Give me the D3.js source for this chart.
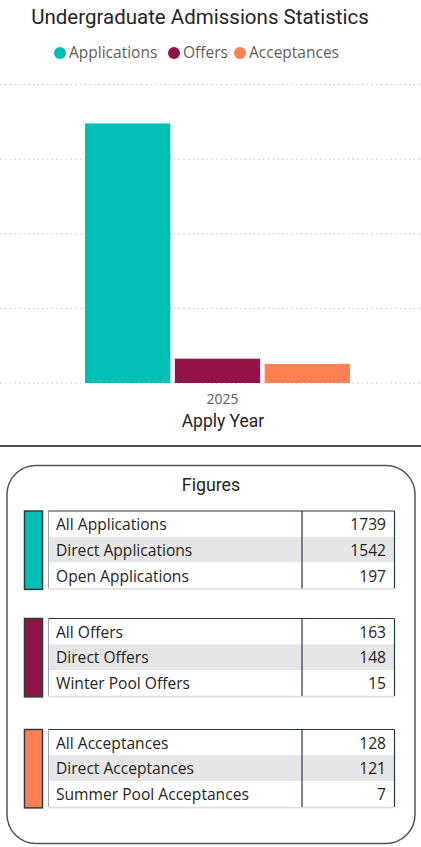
<!DOCTYPE html>
<html lang="en">
<head>
  <meta charset="UTF-8">
  <title>Undergraduate Admissions Statistics</title>
  <script src="https://d3js.org/d3.v7.min.js"></script>
  <style>
    body {
      margin: 0;
      padding: 0;
      background: #ffffff;
    }
    svg {
      display: block;
    }
  </style>
</head>
<body>
  <svg id="chart" width="421" height="847"></svg>

  <script>
    // chart data
    const years = ["2025"];
    const series = ["Applications", "Offers", "Acceptances"];
    const totals = [1739, 163, 128];
    const colors = ["#01BFB5", "#911447", "#FF8153"];
    const yTicks = [0, 500, 1000, 1500, 2000];

    // figures tables
    const applicationLabels = ["All Applications", "Direct Applications", "Open Applications"];
    const applicationValues = [1739, 1542, 197];
    const offerLabels = ["All Offers", "Direct Offers", "Winter Pool Offers"];
    const offerValues = [163, 148, 15];
    const acceptanceLabels = ["All Acceptances", "Direct Acceptances", "Summer Pool Acceptances"];
    const acceptanceValues = [128, 121, 7];

    const bodyFont = "'Open Sans', sans-serif";
    const headFont = "Roboto, sans-serif";

    const svg = d3.select("#chart");

    // title
    svg.append("text")
      .attr("x", 200)
      .attr("y", 24)
      .attr("text-anchor", "middle")
      .style("font-family", headFont)
      .style("font-size", "20.5px")
      .style("fill", "#252423")
      .text("Undergraduate Admissions Statistics");

    // legend
    const legendX = [60, 174, 240];
    const legend = svg.append("g")
      .selectAll("g")
      .data(series)
      .join("g")
      .attr("transform", (d, i) => `translate(${legendX[i]},53)`);

    legend.append("circle")
      .attr("r", 6)
      .attr("fill", (d, i) => colors[i]);

    legend.append("text")
      .attr("x", 9)
      .attr("dy", "0.35em")
      .style("font-family", bodyFont)
      .style("font-size", "15.5px")
      .style("fill", "#605E5C")
      .text(d => d);

    // scales
    const y = d3.scaleLinear().domain([0, 2000]).range([383, 84.5]);
    const x0 = d3.scaleBand().domain(years).range([85, 350]);
    const x1 = d3.scaleBand().domain(series).range([0, x0.bandwidth()]).paddingInner(0.05);

    // gridlines
    svg.append("g")
      .selectAll("line")
      .data(yTicks)
      .join("line")
      .attr("x1", 0)
      .attr("x2", 421)
      .attr("y1", d => y(d))
      .attr("y2", d => y(d))
      .attr("stroke", "#c0c0c0")
      .attr("stroke-width", 1)
      .attr("stroke-dasharray", "1.5,3.2");

    // bars
    const group = svg.append("g")
      .selectAll("g")
      .data(years)
      .join("g")
      .attr("transform", d => `translate(${x0(d)},0)`);

    group.selectAll("rect")
      .data(series.map((s, i) => ({ s, v: totals[i], c: colors[i] })))
      .join("rect")
      .attr("x", d => x1(d.s))
      .attr("width", x1.bandwidth())
      .attr("y", d => y(d.v))
      .attr("height", d => y(0) - y(d.v))
      .attr("fill", d => d.c);

    // x axis
    const xAxis = svg.append("g")
      .attr("transform", "translate(0,383)")
      .call(d3.axisBottom(x0).tickSize(0).tickPadding(11));
    xAxis.select(".domain").remove();
    xAxis.selectAll("text")
      .attr("dx", 5)
      .style("font-family", bodyFont)
      .style("font-size", "14px")
      .style("fill", "#605E5C");

    svg.append("text")
      .attr("x", 223)
      .attr("y", 427)
      .attr("text-anchor", "middle")
      .style("font-family", headFont)
      .style("font-size", "17.5px")
      .style("fill", "#252423")
      .text("Apply Year");

    // divider
    svg.append("line")
      .attr("x1", 0)
      .attr("x2", 421)
      .attr("y1", 446)
      .attr("y2", 446)
      .attr("stroke", "#111")
      .attr("stroke-width", 1.5);

    // figures panel
    svg.append("rect")
      .attr("x", 7)
      .attr("y", 465.5)
      .attr("width", 408)
      .attr("height", 378)
      .attr("rx", 29)
      .attr("fill", "#fff")
      .attr("stroke", "#555")
      .attr("stroke-width", 1.5);

    svg.append("text")
      .attr("x", 211)
      .attr("y", 491)
      .attr("text-anchor", "middle")
      .style("font-family", headFont)
      .style("font-size", "17.8px")
      .style("fill", "#252423")
      .text("Figures");

    const tables = [
      { top: 511, labels: applicationLabels, values: applicationValues, color: colors[0] },
      { top: 618.5, labels: offerLabels, values: offerValues, color: colors[1] },
      { top: 729.5, labels: acceptanceLabels, values: acceptanceValues, color: colors[2] }
    ];

    const rowH = 25.8;
    const tLeft = 48.5, tRight = 394.5, tDiv = 302;

    tables.forEach(t => {
      const g = svg.append("g").attr("transform", `translate(0,${t.top})`);

      g.append("rect")
        .attr("x", 24.5)
        .attr("y", 0)
        .attr("width", 18)
        .attr("height", rowH * 3 + 1)
        .attr("fill", t.color)
        .attr("stroke", "#2c3b40")
        .attr("stroke-width", 1.5);

      const rows = g.selectAll("g.row")
        .data(t.labels.map((l, i) => ({ l, v: t.values[i], i })))
        .join("g")
        .attr("class", "row")
        .attr("transform", d => `translate(0,${d.i * rowH})`);

      rows.append("rect")
        .attr("x", tLeft)
        .attr("width", tRight - tLeft)
        .attr("height", rowH)
        .attr("fill", d => d.i === 1 ? "#e6e6e6" : "#fff");

      rows.append("text")
        .attr("x", 56)
        .attr("y", 19)
        .style("font-family", bodyFont)
        .style("font-size", "15.6px")
        .style("fill", "#252423")
        .text(d => d.l);

      rows.append("text")
        .attr("x", 386)
        .attr("y", 19)
        .attr("text-anchor", "end")
        .style("font-family", bodyFont)
        .style("font-size", "15.6px")
        .style("fill", "#252423")
        .text(d => d.v);

      const h = rowH * 3;
      g.append("line")
        .attr("x1", tLeft).attr("x2", tLeft)
        .attr("y1", 0).attr("y2", h)
        .attr("stroke", "#9aa8ad").attr("stroke-width", 1);
      g.append("line")
        .attr("x1", tLeft).attr("x2", tRight)
        .attr("y1", h + 0.5).attr("y2", h + 0.5)
        .attr("stroke", "#dcdcdc").attr("stroke-width", 1.5);
      g.append("line")
        .attr("x1", tLeft).attr("x2", tRight)
        .attr("y1", 0).attr("y2", 0)
        .attr("stroke", "#1f3b45").attr("stroke-width", 1.2);
      g.append("line")
        .attr("x1", tDiv).attr("x2", tDiv)
        .attr("y1", 0).attr("y2", h)
        .attr("stroke", "#1f3b45").attr("stroke-width", 1.2);
      g.append("line")
        .attr("x1", tRight).attr("x2", tRight)
        .attr("y1", 0).attr("y2", h)
        .attr("stroke", "#1f3b45").attr("stroke-width", 1.2);
    });
  </script>
</body>
</html>
